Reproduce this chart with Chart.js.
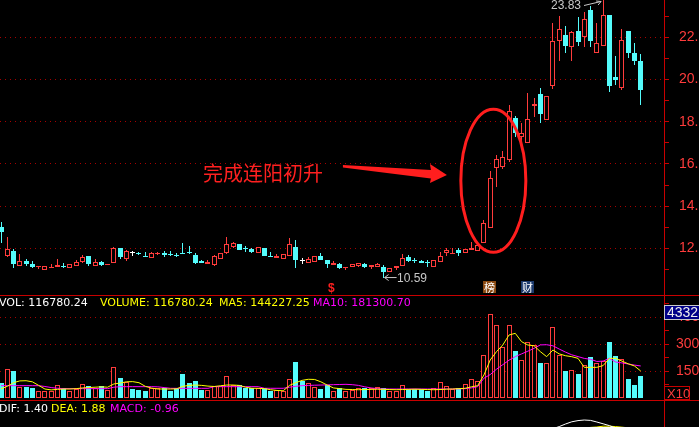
<!DOCTYPE html>
<html lang="zh-CN">
<head>
<meta charset="utf-8">
<title>完成连阳初升</title>
<script src="https://cdn.jsdelivr.net/npm/chart.js@4.4.1/dist/chart.umd.min.js"></script>
<style>
  html, body { margin: 0; padding: 0; background: #000; }
  body { position: relative; width: 699px; height: 427px; overflow: hidden; }
  canvas { position: absolute; left: 0; }
  .lbl { position: absolute; white-space: nowrap; font-family: "DejaVu Sans"; font-size: 11px; line-height: 11px; }
  .rule { position: absolute; left: 0; width: 699px; height: 1px; background: #c80000; }
  .tag { position: absolute; top: 281px; width: 13px; height: 12px; color: #fff; text-align: center;
         font: 11px/12px "Noto Sans CJK SC"; }
  .box { position: absolute; left: 664px; box-sizing: border-box; white-space: nowrap;
         font: 14px/13px "Liberation Sans"; padding-left: 2px; }
</style>
</head>
<body>
<canvas id="kChart" width="699" height="295" style="top:0"></canvas>
<canvas id="volChart" width="699" height="104" style="top:296px"></canvas>
<canvas id="macdChart" width="699" height="26" style="top:401px"></canvas>
<div class="rule" style="top:295px"></div>
<div class="rule" style="top:400px"></div>

<div class="lbl" style="left:-1px;top:297px;color:#fff">VOL: 116780.24</div>
<div class="lbl" style="left:100px;top:297px;color:#ff0">VOLUME: 116780.24</div>
<div class="lbl" style="left:219px;top:297px;color:#ff0">MA5: 144227.25</div>
<div class="lbl" style="left:313px;top:297px;color:#f0f">MA10: 181300.70</div>

<div class="lbl" style="left:-1px;top:403px;color:#fff">DIF: 1.40</div>
<div class="lbl" style="left:51px;top:403px;color:#ff0">DEA: 1.88</div>
<div class="lbl" style="left:110px;top:403px;color:#f0f">MACD: -0.96</div>

<div class="lbl" style="left:551px;top:-1px;color:#c8c8c8;font:12px/12px 'Liberation Sans'">23.83</div>
<div class="lbl" style="left:397px;top:272px;color:#c8c8c8;font:12px/12px 'Liberation Sans'">10.59</div>
<div class="lbl" style="left:328px;top:282px;color:#ff2020;font:bold 12px/12px 'Liberation Sans'">$</div>
<div class="tag" style="left:483px;background:#8a4a12">榜</div>
<div class="tag" style="left:521px;background:#1c3a6c">财</div>

<div style="position:absolute;left:203px;top:163px;font:20px/20px 'Noto Sans CJK SC';color:#ff2020;white-space:nowrap">完成连阳初升</div>

<div class="box" style="top:305px;width:36px;height:15px;background:#000088;border:1px solid #c8c8c8;color:#eee">43328</div>
<div class="box" style="top:386px;width:26px;height:14px;border:1px solid #c80000;color:#ff3c3c;font-size:13px">X10</div>

<script>
// ---- data ----
const opens = [13.03,11.62,11.86,11.14,11.38,11.24,11.10,10.95,11.05,11.10,
  11.12,11.05,11.14,11.33,11.62,11.14,11.33,11.19,11.29,12.00,
  11.48,11.76,11.76,11.62,11.52,11.71,11.76,11.72,11.65,11.76,
  11.81,11.67,11.38,11.24,11.19,11.48,11.76,12.05,12.20,12.00,
  11.95,11.76,12.00,11.60,11.52,11.48,11.62,12.05,11.38,11.29,
  11.33,11.62,11.43,11.19,11.24,11.05,11.10,11.14,11.24,11.10,
  11.10,11.10,10.86,11.05,11.14,11.57,11.43,11.38,11.33,11.10,
  11.33,11.76,11.74,11.90,11.76,11.90,11.86,12.24,12.95,15.81,
  15.86,16.19,18.19,17.29,17.00,18.76,19.29,18.10,19.67,21.81,
  22.10,21.52,22.29,22.00,23.29,21.24,21.57,23.05,20.14,19.62,
  22.29,21.24,20.86];
const highs = [13.27,12.52,11.95,11.71,11.48,11.38,11.15,11.14,11.24,11.48,
  11.29,11.24,11.43,11.67,11.62,11.48,11.38,11.24,12.05,12.00,
  11.90,11.86,11.81,11.81,11.81,11.81,11.86,11.86,11.76,12.24,
  12.10,11.76,11.43,11.43,11.67,11.76,12.52,12.29,12.20,12.10,
  12.00,12.05,12.00,11.81,11.71,11.71,12.48,12.38,11.52,11.57,
  11.62,11.76,11.43,11.38,11.29,11.10,11.24,11.29,11.29,11.19,
  11.29,11.19,11.05,11.14,11.71,11.67,11.52,11.43,11.43,11.43,
  11.81,12.00,12.00,12.00,11.95,12.29,12.24,13.33,15.67,16.43,
  16.62,18.81,18.29,17.95,19.38,19.14,19.62,19.24,22.67,23.00,
  22.52,22.29,22.95,23.19,23.48,22.67,23.83,23.05,21.10,22.38,
  22.29,21.71,21.19];
const lows = [12.27,11.57,11.05,11.14,11.14,11.05,11.00,10.95,11.05,11.10,
  11.05,11.05,11.14,11.29,11.14,11.14,11.14,11.19,11.29,11.48,
  11.38,11.62,11.67,11.60,11.52,11.67,11.57,11.62,11.57,11.74,
  11.74,11.24,11.29,11.24,11.14,11.48,11.71,12.00,11.90,11.81,
  11.76,11.76,11.62,11.57,11.52,11.48,11.62,11.05,11.24,11.29,
  11.33,11.43,11.05,11.19,11.00,10.95,11.10,11.10,11.05,11.00,
  11.10,10.59,10.86,10.95,11.14,11.33,11.29,11.29,11.10,11.10,
  11.33,11.62,11.74,11.62,11.76,11.90,11.86,12.24,12.95,14.90,
  15.76,16.10,17.29,17.05,17.00,18.24,17.95,18.10,19.57,20.86,
  21.24,20.86,21.57,21.52,21.52,21.24,21.57,19.43,19.76,19.52,
  21.00,20.67,18.81];
const closes = [12.75,11.95,11.24,11.38,11.24,11.10,11.13,11.14,11.10,11.19,
  11.10,11.24,11.33,11.57,11.24,11.33,11.19,11.24,12.00,11.57,
  11.86,11.76,11.71,11.60,11.76,11.76,11.67,11.69,11.62,11.74,
  11.76,11.29,11.29,11.33,11.62,11.76,12.20,12.24,11.90,11.95,
  11.81,12.05,11.62,11.57,11.62,11.71,12.20,11.43,11.38,11.48,
  11.62,11.43,11.24,11.29,11.05,11.08,11.24,11.29,11.10,11.19,
  11.24,10.86,11.05,11.14,11.52,11.38,11.41,11.29,11.29,11.43,
  11.62,11.90,11.76,11.76,11.95,12.00,12.14,13.19,15.33,16.24,
  16.33,18.52,17.48,17.48,18.14,18.86,18.38,19.24,21.81,22.38,
  21.57,22.24,21.76,22.86,21.81,21.71,23.05,19.71,20.00,21.86,
  21.24,20.86,19.48];

// volume in axis units (x10 shown on the axis box)
const volumes = [817,1611,1517,594,594,575,389,407,407,740,
  555,407,500,778,667,537,667,444,1722,1111,
  907,500,444,407,574,537,555,407,555,1333,
  815,944,444,444,685,685,1204,740,722,574,
  574,574,537,407,444,389,1070,1990,930,860,
  630,500,722,389,537,370,450,555,555,555,
  594,537,407,407,722,500,500,500,407,537,
  870,685,500,537,778,1056,963,2389,4667,4056,
  2815,4056,2630,2111,3093,2944,1944,1944,3926,2389,
  1500,1556,1333,1833,2259,1944,2074,3093,2315,2167,
  1056,722,1204];
const ma5 = [500,650,850,950,960,900,700,500,450,480,
  500,500,520,560,580,600,620,600,780,830,
  900,910,850,650,550,500,500,500,510,650,
  700,720,700,660,640,680,720,720,700,600,
  540,537,520,460,420,400,700,850,980,1040,
  1030,900,720,560,520,480,470,460,470,480,
  490,480,470,460,470,480,490,480,470,460,
  470,490,500,520,540,620,685,1278,2111,2574,
  2944,3500,3593,3130,2944,2900,2574,2296,2667,2450,
  2350,2296,2204,1704,1704,1704,1800,2204,2204,2050,
  1900,1778,1500];
const ma10 = [685,685,685,685,685,685,685,640,580,540,
  520,520,520,520,520,520,520,520,600,630,
  630,630,630,630,630,620,580,540,537,537,
  537,537,537,537,630,630,630,630,630,630,
  630,630,540,540,540,540,600,650,685,700,
  710,720,730,740,750,760,740,700,620,560,
  520,500,500,500,500,500,500,500,500,500,
  500,500,500,510,520,560,630,1100,1300,1600,
  1850,2100,2300,2450,2600,2760,2950,2960,2900,2720,
  2550,2400,2300,2200,2150,2030,2050,2200,2000,1950,
  1890,1830,1780];

// only the top of the MACD pane is in view: last days of DIF / DEA
const macdFrom = 85;
const dif = [1.50,1.65,1.80,1.92,2.02,2.15,2.26,2.32,2.35,2.33,2.25,2.16,2.07,1.95,1.85,1.70,1.55,1.40];
const dea = [1.30,1.37,1.45,1.55,1.64,1.74,1.83,1.90,1.95,1.98,2.00,2.04,2.04,2.02,1.99,1.96,1.92,1.88];

const priceTicks = [11,12,13,14,15,16,17,18,19,20,21,22,23];
const volTicks = [750,1500,2250,3000,3750,4500,5250];

// ---- view ranges ----
const X_MIN = -0.16, X_MAX = 105.71;
const PRICE_MIN = 9.787, PRICE_MAX = 23.768;
const VOL_MIN = -111, VOL_MAX = 5667;
const MACD_MIN = 2.0, MACD_MAX = 3.3;

const UP = '#ff3c3c', DOWN = '#54fcfc', FLAT = '#ffffff';
const AXIS_RED = '#c80000', GRID_RED = '#a80000', LABEL_RED = '#ff3c3c';

Chart.defaults.font.family = '"Liberation Sans", Arial, sans-serif';

const idx = opens.map((_, i) => i);
const colorOf = i => closes[i] > opens[i] ? UP : (closes[i] < opens[i] ? DOWN : FLAT);
const candleColors = idx.map(colorOf);

const xAxis = { type: 'linear', display: false, min: X_MIN, max: X_MAX, offset: false };

const rightAxis = (min, max, tickValues, every, pad, fmt) => ({
  position: 'right', min, max,
  afterFit: s => { s.width = 35; s.paddingTop = 0; s.paddingBottom = 0; },
  afterBuildTicks: s => { s.ticks = tickValues.map(v => ({ value: v })); },
  border: { display: true, color: AXIS_RED, width: 1, dash: [1, 4] },
  grid: {
    color: c => (c.tick && c.tick.value % every === 0) ? GRID_RED : 'rgba(0,0,0,0)',
    tickColor: AXIS_RED, tickLength: 5, lineWidth: 1
  },
  ticks: {
    autoSkip: false, padding: pad, color: LABEL_RED, font: { size: 14 },
    callback: v => v % every === 0 ? fmt(v) : ''
  }
});

const baseOptions = {
  responsive: false, animation: false, events: [],
  layout: { padding: 0 },
  plugins: { legend: { display: false }, tooltip: { enabled: false } }
};

// keep bar edges on whole pixels so the thin outlines stay crisp
const snapBars = {
  id: 'snapBars',
  afterDatasetsUpdate(chart) {
    chart.data.datasets.forEach((ds, d) => {
      const meta = chart.getDatasetMeta(d);
      if (meta.type !== 'bar') return;
      meta.data.forEach(el => {
        el.x = Math.floor(el.x) + 0.5;
        el.y = Math.round(el.y);
        el.base = Math.round(el.base);
      });
    });
  }
};

// circle, arrow and the two price notes
const notes = {
  id: 'notes',
  afterDatasetsDraw(chart) {
    const { ctx, scales: { x, y } } = chart;
    ctx.save();
    ctx.strokeStyle = '#ff1e1e';
    ctx.lineWidth = 3;
    ctx.beginPath();
    ctx.ellipse(x.getPixelForValue(78.5), y.getPixelForValue(15.2), 32.5, 71.5, 0, 0, Math.PI * 2);
    ctx.stroke();

    // arrow pointing at the start of the rally
    const tx = x.getPixelForValue(71.1), ty = y.getPixelForValue(15.47);
    ctx.fillStyle = '#ff1e1e';
    ctx.beginPath();
    ctx.moveTo(tx - 104, ty - 10);
    ctx.lineTo(tx - 16, ty - 5);
    ctx.lineTo(tx - 17, ty - 11);
    ctx.lineTo(tx, ty);
    ctx.lineTo(tx - 17, ty + 8);
    ctx.lineTo(tx - 16, ty + 3.5);
    ctx.lineTo(tx - 104, ty - 7.5);
    ctx.closePath();
    ctx.fill();

    ctx.strokeStyle = '#c8c8c8';
    ctx.lineWidth = 1;
    // high mark
    const hx = x.getPixelForValue(96) - 2, hy = Math.max(y.getPixelForValue(highs[96]), 1.5);
    ctx.beginPath();
    ctx.moveTo(584, 5.5); ctx.lineTo(hx, hy);
    ctx.moveTo(hx, hy); ctx.lineTo(hx - 5, hy - 0.5);
    ctx.moveTo(hx, hy); ctx.lineTo(hx - 3, hy + 3.5);
    ctx.stroke();
    // low mark
    const lx = x.getPixelForValue(61) + 1, ly = y.getPixelForValue(lows[61]);
    ctx.beginPath();
    ctx.moveTo(lx + 12, ly - 0.5); ctx.lineTo(lx, ly - 0.5);
    ctx.moveTo(lx, ly - 0.5); ctx.lineTo(lx + 4, ly - 3.5);
    ctx.moveTo(lx, ly - 0.5); ctx.lineTo(lx + 4, ly + 2.5);
    ctx.stroke();
    ctx.restore();
  }
};

const bodyData = idx.map(i => {
  const lo = Math.min(opens[i], closes[i]);
  const hi = Math.max(opens[i], closes[i], lo + 0.05);
  return { x: i, y: [lo, hi] };
});
const wickData = idx.map(i => ({ x: i, y: [lows[i], highs[i]] }));

new Chart(document.getElementById('kChart'), {
  type: 'bar',
  data: {
    datasets: [
      {
        label: 'body', data: bodyData, order: 0, grouped: false,
        barThickness: 5, inflateAmount: 0, borderSkipped: false, borderWidth: 1,
        borderColor: candleColors,
        backgroundColor: candleColors.map(c => c === UP ? '#000000' : c)
      },
      {
        label: 'wick', data: wickData, order: 1, grouped: false,
        barThickness: 1, inflateAmount: 0, borderWidth: 0,
        backgroundColor: candleColors
      }
    ]
  },
  options: {
    ...baseOptions,
    scales: {
      x: xAxis,
      y: rightAxis(PRICE_MIN, PRICE_MAX, priceTicks, 2, 10, v => v.toFixed(2))
    }
  },
  plugins: [snapBars, notes]
});

const volColors = idx.map(i => closes[i] > opens[i] ? UP : DOWN);

new Chart(document.getElementById('volChart'), {
  type: 'bar',
  data: {
    datasets: [
      {
        type: 'line', label: 'MA5', data: idx.map(i => ({ x: i, y: ma5[i] })), order: 0,
        borderColor: '#ffff00', borderWidth: 1, pointRadius: 0, tension: 0
      },
      {
        type: 'line', label: 'MA10', data: idx.map(i => ({ x: i, y: ma10[i] })), order: 0,
        borderColor: '#ff00ff', borderWidth: 1, pointRadius: 0, tension: 0
      },
      {
        label: 'VOLUME', data: idx.map(i => ({ x: i, y: volumes[i] })), order: 1, grouped: false,
        barThickness: 5, inflateAmount: 0, borderSkipped: false, borderWidth: 1,
        borderColor: volColors,
        backgroundColor: volColors.map(c => c === UP ? '#000000' : c)
      }
    ]
  },
  options: {
    ...baseOptions,
    scales: {
      x: xAxis,
      y: rightAxis(VOL_MIN, VOL_MAX, volTicks, 1500, 7, v => String(v))
    }
  },
  plugins: [snapBars]
});

new Chart(document.getElementById('macdChart'), {
  type: 'line',
  data: {
    datasets: [
      {
        label: 'DIF', data: dif.map((v, k) => ({ x: macdFrom + k, y: v })),
        borderColor: '#ffffff', borderWidth: 1, pointRadius: 0, tension: 0
      },
      {
        label: 'DEA', data: dea.map((v, k) => ({ x: macdFrom + k, y: v })),
        borderColor: '#ffff00', borderWidth: 1, pointRadius: 0, tension: 0
      }
    ]
  },
  options: {
    ...baseOptions,
    scales: {
      x: xAxis,
      y: {
        position: 'right', min: MACD_MIN, max: MACD_MAX,
        afterFit: s => { s.width = 35; s.paddingTop = 0; s.paddingBottom = 0; },
        border: { display: true, color: AXIS_RED, width: 1 },
        grid: { display: false },
        ticks: { display: false }
      }
    }
  }
});
</script>
</body>
</html>
